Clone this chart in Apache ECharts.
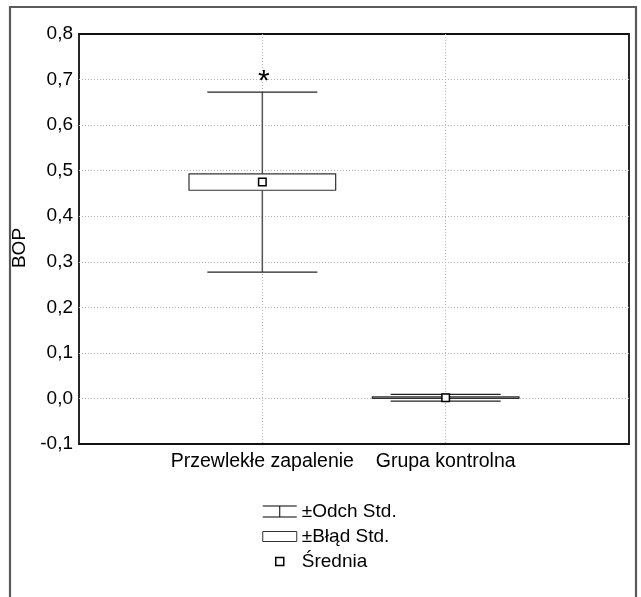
<!DOCTYPE html>
<html>
<head>
<meta charset="utf-8">
<script src="https://cdn.jsdelivr.net/npm/echarts@6/dist/echarts.min.js"></script>
<style>
  html, body { margin: 0; padding: 0; background: #fff; }
  #chart { width: 641px; height: 597px; }
</style>
</head>
<body>
<div id="chart"></div>
<script>
// ---- data ----
const categories = ['Przewlekłe zapalenie', 'Grupa kontrolna'];
const xPositions = [1, 2];
const means  = [0.475, 0.0016];
const seLow  = [0.457, 0.0003];
const seHigh = [0.493, 0.0033];
const sdLow  = [0.2775, -0.0057];
const sdHigh = [0.6725, 0.0089];
const marks  = ['*', ''];
const yTicks = { min: -0.1, max: 0.8, interval: 0.1 };
const legendNames = ['±Odch Std.', '±Błąd Std.', 'Średnia'];

const FONT = 'Liberation Sans, Arial, Helvetica, sans-serif';

const whiskerData = xPositions.map((x, i) => [x, sdLow[i], sdHigh[i]]);
const boxData = xPositions.map((x, i) => [x, seLow[i], seHigh[i]]);
const meanData = xPositions.map((x, i) => [x, means[i]]);

const chart = echarts.init(document.getElementById('chart'), null, { renderer: 'canvas' });

const option = {
  backgroundColor: '#fff',
  animation: false,
  textStyle: { fontFamily: FONT },
  graphic: [{
    type: 'rect',
    shape: { x: 10, y: 7, width: 626, height: 610 },
    style: { fill: 'none', stroke: '#5a5a5a', lineWidth: 2.2 },
    silent: true, z: -10
  }],
  grid: {
    left: 79, top: 34, width: 550, height: 410,
    outerBoundsMode: 'none', containLabel: false,
    show: true, borderColor: '#111', borderWidth: 1.8,
    backgroundColor: 'transparent'
  },
  xAxis: {
    type: 'value', min: 0, max: 3, interval: 1,
    axisLine: { show: false }, axisTick: { show: false },
    axisLabel: {
      margin: 8, fontSize: 19.5, color: '#000', fontFamily: FONT,
      formatter: v => categories[v - 1] || ''
    },
    splitLine: { show: true, showMinLine: false, showMaxLine: false,
      lineStyle: { color: '#b4b4b4', type: [1, 2], width: 1 } }
  },
  yAxis: {
    type: 'value', min: yTicks.min, max: yTicks.max, interval: yTicks.interval,
    name: 'BOP', nameLocation: 'middle', nameGap: 45,
    nameTextStyle: { fontSize: 19, color: '#000', fontFamily: FONT, padding: [0, 18, 0, 0] },
    axisLine: { show: false }, axisTick: { show: false },
    axisLabel: {
      margin: 6, fontSize: 19, color: '#000', fontFamily: FONT,
      formatter: v => v.toFixed(1).replace('.', ',')
    },
    splitLine: { show: true, showMinLine: false, showMaxLine: false,
      lineStyle: { color: '#b4b4b4', type: [1, 2], width: 1 } }
  },
  legend: {
    orient: 'vertical', left: 262, top: 502,
    itemWidth: 34, itemHeight: 11, itemGap: 6, padding: 0,
    selectedMode: false,
    textStyle: { fontSize: 19, color: '#000', fontFamily: FONT },
    data: [
      { name: legendNames[0], icon: 'path://M0,0L34,0M17,0L17,11M0,11L34,11',
        itemStyle: { color: '#fff', borderColor: '#000', borderWidth: 1 } },
      { name: legendNames[1], icon: 'path://M0,0.5L34,0.5L34,10.5L0,10.5Z',
        itemStyle: { color: '#fff', borderColor: '#333', borderWidth: 1 } },
      { name: legendNames[2], icon: 'path://M0,0M34,11M13,1.5L21,1.5L21,9.5L13,9.5Z',
        itemStyle: { color: '#fff', borderColor: '#000', borderWidth: 1.5 } }
    ]
  },
  series: [
    {
      name: legendNames[0], type: 'custom', z: 2,
      encode: { x: 0, y: [1, 2] },
      data: whiskerData,
      renderItem: function (params, api) {
        const x = api.value(0);
        const pLo = api.coord([x, api.value(1)]);
        const pHi = api.coord([x, api.value(2)]);
        const capHalf = api.size([0.3, 0])[0];
        const mk = marks[params.dataIndex];
        const children = [
          { type: 'line', shape: { x1: pLo[0], y1: pLo[1], x2: pHi[0], y2: pHi[1] },
            style: { stroke: '#555', lineWidth: 1.5 } },
          { type: 'line', shape: { x1: pHi[0] - capHalf, y1: pHi[1], x2: pHi[0] + capHalf, y2: pHi[1] },
            style: { stroke: '#222', lineWidth: 1.3 } },
          { type: 'line', shape: { x1: pLo[0] - capHalf, y1: pLo[1], x2: pLo[0] + capHalf, y2: pLo[1] },
            style: { stroke: '#222', lineWidth: 1.3 } }
        ];
        if (mk) {
          children.push({ type: 'text',
            style: { text: mk, x: pHi[0] + 1.5, y: pHi[1] - 10, align: 'center', verticalAlign: 'middle',
              fontSize: 30, fontFamily: FONT, fill: '#000' } });
        }
        return { type: 'group', children: children };
      }
    },
    {
      name: legendNames[1], type: 'custom', z: 3,
      encode: { x: 0, y: [1, 2] },
      data: boxData,
      renderItem: function (params, api) {
        const x = api.value(0);
        const pHi = api.coord([x, api.value(2)]);
        const pLo = api.coord([x, api.value(1)]);
        const half = api.size([0.4, 0])[0];
        return { type: 'rect',
          shape: { x: pHi[0] - half, y: pHi[1], width: 2 * half, height: Math.max(pLo[1] - pHi[1], 0.5) },
          style: { fill: '#fff', stroke: '#333', lineWidth: 1.2 } };
      }
    },
    {
      name: legendNames[2], type: 'scatter', z: 4,
      data: meanData,
      symbol: 'rect', symbolSize: 7.5,
      itemStyle: { color: '#fff', borderColor: '#000', borderWidth: 1.5, opacity: 1 }
    }
  ]
};
chart.setOption(option);
</script>
</body>
</html>
